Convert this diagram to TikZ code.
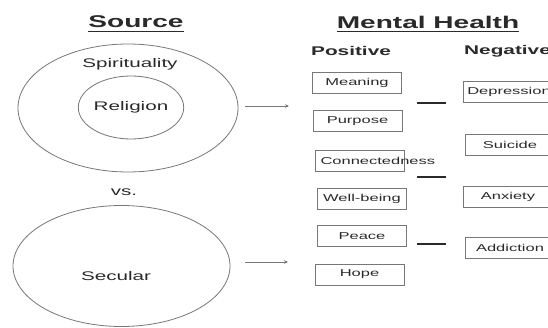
\documentclass[tikz,border=0pt]{standalone}
\usepackage{fontspec}
\setmainfont[FakeStretch=1.65]{Liberation Sans}
\usetikzlibrary{shapes.geometric,arrows.meta}
\definecolor{txt}{HTML}{2A2A2A}
\definecolor{ln}{HTML}{777777}
\begin{document}
\begin{tikzpicture}[x=1pt,y=-1pt,
  ring/.style={draw=ln, line width=0.8pt, ellipse, inner sep=0pt},
  bx/.style={draw=ln, line width=0.8pt, rectangle, inner sep=0pt, minimum width=89pt, minimum height=21pt, font=\fontsize{10}{10}\selectfont, text=txt},
  ttl/.style={inner sep=0pt, font=\fontsize{17}{17}\selectfont\bfseries, text=txt},
  sub/.style={inner sep=0pt, font=\fontsize{12.6}{12.6}\selectfont\bfseries, text=txt},
  lbl/.style={inner sep=0pt, font=\fontsize{12.5}{12.5}\selectfont, text=txt},
  arr/.style={draw=ln, line width=0.8pt, -{Stealth[length=4pt,width=3.5pt,fill=txt]}},
  bar/.style={draw=txt, line width=2.6pt}
]
\useasboundingbox (0,0) rectangle (548,328);
\clip (0,0) rectangle (548,328);
\fill[white] (0,0) rectangle (548,328);

% titles
\node[ttl] (src) at (136,22) {Source};
\draw[txt, line width=1.3pt] ([yshift=-3pt]src.south west) -- ([yshift=-3pt]src.south east);
\node[ttl] (mh) at (428,22) {Mental Health};
\draw[txt, line width=1.3pt] ([yshift=-3pt]mh.south west) -- ([yshift=-3pt]mh.south east);
\node[sub] (pos) at (351,51) {Positive};
\node[sub, anchor=west] (neg) at (464,51) {Negative};

% source ellipses
\node[ring, minimum width=220pt, minimum height=128pt] (spir) at (128,108) {};
\node[lbl] (spirt) at (130,64) {Spirituality};
\node[ring, minimum width=104pt, minimum height=63pt, font=\fontsize{12.5}{12.5}\selectfont, text=txt] (rel) at (131,107.5) {Religion};
\node[lbl] (vs) at (124,192) {vs.};
\node[ring, minimum width=217pt, minimum height=121pt] (sec) at (121.5,266) {};
\node[lbl] (sect) at (116,276) {Secular};

% arrows
\coordinate (a1s) at (245,106);
\coordinate (a1e) at (289,106);
\coordinate (a2s) at (245,262);
\coordinate (a2e) at (288,262);
\draw[arr] (a1s) -- (a1e);
\draw[arr] (a2s) -- (a2e);

% positive boxes
\node[bx] (mean) at (357,82.5) {Meaning};
\node[bx] (purp) at (357.5,121) {Purpose};
\node[bx] (conn) at (359.5,160.5) {\makebox[78pt][l]{Connectedness}};
\node[bx] (well) at (362,198.5) {Well-being};
\node[bx] (peace) at (362,236) {Peace};
\node[bx] (hope) at (359.5,274.5) {Hope};

% negative boxes
\node[bx, minimum width=91pt] (dep) at (509,92) {Depression};
\node[bx, minimum width=90pt] (sui) at (510,144.5) {Suicide};
\node[bx, minimum width=90pt] (anx) at (508,196.5) {Anxiety};
\node[bx, minimum width=90pt] (add) at (510,248) {Addiction};

% bars
\coordinate (b1s) at (417,103); \coordinate (b1e) at (446,103);
\coordinate (b2s) at (417,177); \coordinate (b2e) at (446,177);
\coordinate (b3s) at (417,244); \coordinate (b3e) at (446,244);
\draw[bar] (b1s) -- (b1e);
\draw[bar] (b2s) -- (b2e);
\draw[bar] (b3s) -- (b3e);
\end{tikzpicture}
\end{document}
